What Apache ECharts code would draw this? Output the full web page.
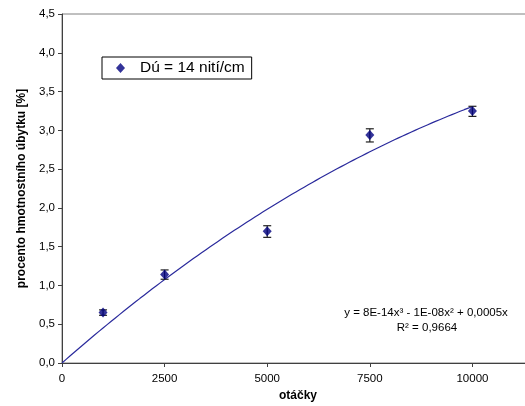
<!DOCTYPE html>
<html>
<head>
<meta charset="utf-8">
<script src="https://cdn.jsdelivr.net/npm/echarts@6/dist/echarts.min.js"></script>
<style>
html, body { margin: 0; padding: 0; background: #fff; }
#chart { width: 525px; height: 406px; }
</style>
</head>
<body>
<div id="chart"></div>
<script>
// Measured weight loss vs. number of revolutions
const revolutions = [1000, 2500, 5000, 7500, 10000];
const lossPercent = [0.65, 1.14, 1.70, 2.94, 3.25];
const errLow = [0.615, 1.08, 1.62, 2.85, 3.18];
const errHigh = [0.685, 1.20, 1.77, 3.02, 3.31];
const xTickValues = [0, 2500, 5000, 7500, 10000];
const seriesName = 'Dú = 14 nití/cm';
const equationText = 'y = 8E-14x³ - 1E-08x² + 0,0005x';
const r2Text = 'R² = 0,9664';
const xTitle = 'otáčky';
const yTitle = 'procento hmotnostního úbytku [%]';

const FONT = '"Liberation Sans", Arial, sans-serif';

// Least-squares cubic through the origin: y = a*x^3 + b*x^2 + c*x
function fitCubicThroughOrigin(xs, ys) {
  const s = v => v / 1000; // work in thousands for numerical stability
  const M = [[0, 0, 0], [0, 0, 0], [0, 0, 0]];
  const r = [0, 0, 0];
  xs.forEach((x, i) => {
    const t = s(x);
    const basis = [t, t * t, t * t * t];
    for (let p = 0; p < 3; p++) {
      r[p] += basis[p] * ys[i];
      for (let q = 0; q < 3; q++) M[p][q] += basis[p] * basis[q];
    }
  });
  // Gaussian elimination
  for (let k = 0; k < 3; k++) {
    for (let i = k + 1; i < 3; i++) {
      const f = M[i][k] / M[k][k];
      for (let j = k; j < 3; j++) M[i][j] -= f * M[k][j];
      r[i] -= f * r[k];
    }
  }
  const c = [0, 0, 0];
  for (let i = 2; i >= 0; i--) {
    let acc = r[i];
    for (let j = i + 1; j < 3; j++) acc -= M[i][j] * c[j];
    c[i] = acc / M[i][i];
  }
  return x => { const t = s(x); return c[0] * t + c[1] * t * t + c[2] * t * t * t; };
}

const trend = fitCubicThroughOrigin(revolutions, lossPercent);
const trendPoints = [];
for (let x = 0; x <= revolutions[revolutions.length - 1]; x += 100) {
  trendPoints.push([x, trend(x)]);
}

const points = revolutions.map((x, i) => [x, lossPercent[i]]);
const bars = revolutions.map((x, i) => [x, errLow[i], errHigh[i]]);

const chart = echarts.init(document.getElementById('chart'), null, { renderer: 'canvas' });

chart.setOption({
  animation: false,
  backgroundColor: '#fff',
  textStyle: { fontFamily: FONT },
  grid: {
    left: 62, top: 14, width: 472, bottom: 43,
    outerBoundsMode: 'none',
    show: true, borderColor: '#808080', borderWidth: 1, backgroundColor: 'transparent'
  },
  legend: {
    data: [seriesName],
    left: 102, top: 57,
    orient: 'horizontal',
    backgroundColor: '#fff',
    borderColor: '#000', borderWidth: 1, borderRadius: 0,
    padding: [3, 7, 3, 14],
    itemWidth: 9, itemHeight: 10,
    textStyle: { fontFamily: FONT, fontSize: 15.5, color: '#000', padding: [0, 0, 0, 10] }
  },
  xAxis: {
    type: 'value', min: 0, max: 11500, interval: 2500,
    name: xTitle, nameLocation: 'middle', nameGap: 26,
    nameTextStyle: { fontFamily: FONT, fontSize: 12, fontWeight: 'bold', color: '#000' },
    axisLine: { show: true, lineStyle: { color: '#404040', width: 1 } },
    axisTick: { show: true, inside: false, length: 4, lineStyle: { color: '#404040' } },
    axisLabel: {
      fontFamily: FONT, fontSize: 11.5, color: '#000', margin: 10,
      formatter: v => (xTickValues.indexOf(v) >= 0 ? String(v) : '')
    },
    splitLine: { show: false }
  },
  yAxis: {
    type: 'value', min: 0, max: 4.5, interval: 0.5,
    name: yTitle, nameLocation: 'middle', nameGap: 33, nameRotate: 90,
    nameTextStyle: { fontFamily: FONT, fontSize: 12, fontWeight: 'bold', color: '#000' },
    axisLine: { show: true, lineStyle: { color: '#404040', width: 1 } },
    axisTick: { show: true, inside: false, length: 4, lineStyle: { color: '#404040' } },
    axisLabel: {
      fontFamily: FONT, fontSize: 11.5, color: '#000', margin: 7,
      formatter: v => v.toFixed(1).replace('.', ',')
    },
    splitLine: { show: false }
  },
  graphic: [
    { type: 'text', x: 426, y: 313,
      style: { text: equationText, font: '11.5px ' + FONT, fill: '#000', align: 'center', verticalAlign: 'middle' } },
    { type: 'text', x: 427, y: 328,
      style: { text: r2Text, font: '11.5px ' + FONT, fill: '#000', align: 'center', verticalAlign: 'middle' } }
  ],
  series: [
    {
      name: 'trend', type: 'line', data: trendPoints,
      showSymbol: false, smooth: false,
      lineStyle: { color: '#2a2a9c', width: 1.2 },
      silent: true, z: 2
    },
    {
      name: 'errors', type: 'custom', data: bars, z: 3, silent: true,
      renderItem: function (params, api) {
        const x = api.value(0);
        const lo = api.coord([x, api.value(1)]);
        const hi = api.coord([x, api.value(2)]);
        const half = 4;
        const st = { stroke: '#202020', lineWidth: 1.2 };
        return {
          type: 'group',
          children: [
            { type: 'line', shape: { x1: lo[0], y1: lo[1], x2: hi[0], y2: hi[1] }, style: st },
            { type: 'line', shape: { x1: lo[0] - half, y1: lo[1], x2: lo[0] + half, y2: lo[1] }, style: st },
            { type: 'line', shape: { x1: hi[0] - half, y1: hi[1], x2: hi[0] + half, y2: hi[1] }, style: st }
          ]
        };
      }
    },
    {
      name: seriesName, type: 'scatter', data: points, z: 4,
      symbol: 'diamond', symbolSize: [9, 10],
      itemStyle: { color: '#000080' }
    }
  ]
});
</script>
</body>
</html>
